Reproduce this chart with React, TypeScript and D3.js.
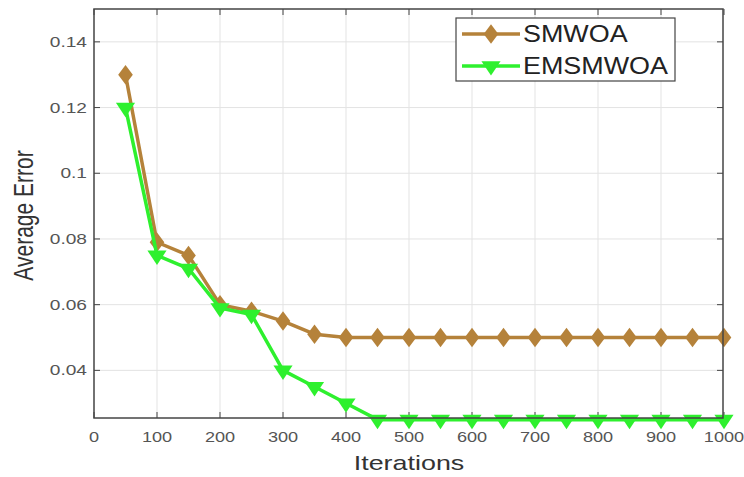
import React, { useEffect, useRef } from "react";
import * as d3 from "d3";

const iterations = [50, 100, 150, 200, 250, 300, 350, 400, 450, 500, 550, 600, 650, 700, 750, 800, 850, 900, 950, 1000];
const smwoa = [0.13, 0.079, 0.075, 0.06, 0.058, 0.055, 0.051, 0.05, 0.05, 0.05, 0.05, 0.05, 0.05, 0.05, 0.05, 0.05, 0.05, 0.05, 0.05, 0.05];
const emsmwoa = [0.12, 0.075, 0.071, 0.059, 0.057, 0.04, 0.035, 0.03, 0.025, 0.025, 0.025, 0.025, 0.025, 0.025, 0.025, 0.025, 0.025, 0.025, 0.025, 0.025];
const xTicks = [0, 100, 200, 300, 400, 500, 600, 700, 800, 900, 1000];
const yTicks = [0.04, 0.06, 0.08, 0.1, 0.12, 0.14];
const seriesNames = ["SMWOA", "EMSMWOA"];
const seriesColors = ["#b5823a", "#2ef02e"];

const W = 744;
const H = 477;
const FONT = "'Liberation Sans', Arial, sans-serif";

export default function App() {
  const ref = useRef<SVGSVGElement>(null);

  useEffect(() => {
    const svg = d3.select(ref.current);
    svg.selectAll("*").remove();

    const left = 94, right = 723, top = 9, bottom = 418;
    const x = d3.scaleLinear().domain([0, 1000]).range([left, 724]);
    const y = d3.scaleLinear().domain([0.0255, 0.15]).range([bottom, top]);

    svg.append("rect").attr("width", W).attr("height", H).attr("fill", "#fff");

    // the source picture is stretched sideways, so text gets a horizontal scale
    const label = (g: any, tx: number, ty: number, s: string, size: number, sx: number, anchor: string, fill: string, rot = 0) =>
      g.append("text")
        .attr("transform", `translate(${tx},${ty}) rotate(${rot}) scale(${rot ? 1 : sx},${rot ? sx : 1})`)
        .attr("text-anchor", anchor)
        .attr("font-family", FONT).attr("font-size", size).attr("fill", fill)
        .text(s);

    // grid
    const grid = svg.append("g").attr("stroke", "#e3e3e3").attr("stroke-width", 1);
    xTicks.slice(1, -1).forEach(t => {
      grid.append("line").attr("x1", x(t)).attr("x2", x(t)).attr("y1", top).attr("y2", bottom);
    });
    yTicks.forEach(t => {
      grid.append("line").attr("x1", left).attr("x2", right).attr("y1", y(t)).attr("y2", y(t));
    });

    // ticks (inward, all four sides)
    const ticks = svg.append("g").attr("stroke", "#444").attr("stroke-width", 1);
    xTicks.forEach(t => {
      ticks.append("line").attr("x1", x(t)).attr("x2", x(t)).attr("y1", bottom).attr("y2", bottom - 6);
      ticks.append("line").attr("x1", x(t)).attr("x2", x(t)).attr("y1", top).attr("y2", top + 6);
    });
    yTicks.forEach(t => {
      ticks.append("line").attr("x1", left).attr("x2", left + 6).attr("y1", y(t)).attr("y2", y(t));
      ticks.append("line").attr("x1", right).attr("x2", right - 6).attr("y1", y(t)).attr("y2", y(t));
    });

    // tick labels
    const tl = svg.append("g");
    xTicks.forEach(t => label(tl, x(t), 442, String(t), 14.5, 1.25, "middle", "#555"));
    yTicks.forEach(t => label(tl, 87, y(t) + 5, String(t), 14.5, 1.32, "end", "#555"));

    // axis labels
    label(svg, 409, 470, "Iterations", 21, 1.28, "middle", "#333");
    label(svg, 33, (top + bottom) / 2 + 2, "Average Error", 21, 1.28, "middle", "#333", -90);

    const diamond = d3.symbol().type(d3.symbolDiamond).size(110);
    const tri = d3.symbol().type(d3.symbolTriangle).size(120);
    const markers = [
      (g: any, cx: number, cy: number, c: string) =>
        g.append("path").attr("d", diamond()).attr("transform", `translate(${cx},${cy}) scale(1.3,1)`).attr("fill", c),
      (g: any, cx: number, cy: number, c: string) =>
        g.append("path").attr("d", tri()).attr("transform", `translate(${cx},${cy}) rotate(180) scale(1.15,1)`).attr("fill", c),
    ];

    const line = d3.line<number>().x((_, i) => x(iterations[i])).y(d => y(d));
    const plot = svg.append("g");
    [smwoa, emsmwoa].forEach((vals, s) => {
      plot.append("path").datum(vals).attr("d", line)
        .attr("fill", "none").attr("stroke", seriesColors[s]).attr("stroke-width", 3.5)
        .attr("stroke-linejoin", "round");
      vals.forEach((v, i) => markers[s](plot, x(iterations[i]), y(v), seriesColors[s]));
    });

    // axes box
    svg.append("rect").attr("x", left).attr("y", top).attr("width", right - left).attr("height", bottom - top)
      .attr("fill", "none").attr("stroke", "#444").attr("stroke-width", 1.5);

    // legend
    const lg = svg.append("g");
    lg.append("rect").attr("x", 456).attr("y", 18).attr("width", 219).attr("height", 63)
      .attr("fill", "#fff").attr("stroke", "#444").attr("stroke-width", 1.2);
    seriesNames.forEach((name, s) => {
      const ly = 34 + s * 32;
      lg.append("line").attr("x1", 462).attr("x2", 520).attr("y1", ly).attr("y2", ly)
        .attr("stroke", seriesColors[s]).attr("stroke-width", 3.5);
      markers[s](lg, 491, ly, seriesColors[s]);
      label(lg, 523, ly + 8, name, 23, 1.17, "start", "#222");
    });
  }, []);

  return (
    <svg ref={ref} width={W} height={H} style={{ position: "absolute", left: 0, top: 0 }} />
  );
}
